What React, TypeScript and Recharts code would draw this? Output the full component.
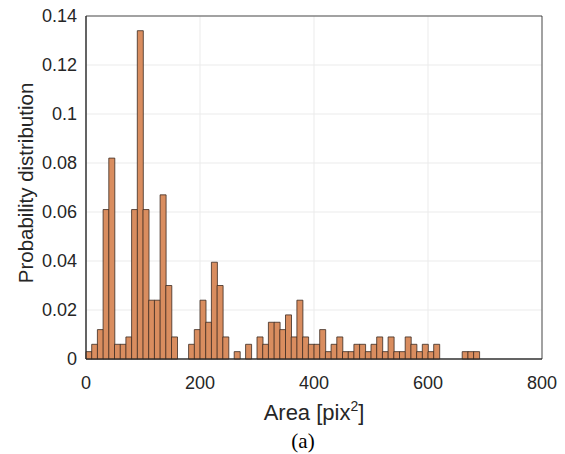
import React from 'react';
import { BarChart, Bar, XAxis, YAxis, CartesianGrid, ReferenceArea, Label } from 'recharts';

// histogram bins, 10 pix^2 wide, starting at 0
const binStart = [
  0, 10, 20, 30, 40, 50, 60, 70, 80, 90,
  100, 110, 120, 130, 140, 150, 160, 170, 180, 190,
  200, 210, 220, 230, 240, 250, 260, 270, 280, 290,
  300, 310, 320, 330, 340, 350, 360, 370, 380, 390,
  400, 410, 420, 430, 440, 450, 460, 470, 480, 490,
  500, 510, 520, 530, 540, 550, 560, 570, 580, 590,
  600, 610, 620, 630, 640, 650, 660, 670, 680,
];
const probability = [
  0.003, 0.006, 0.012, 0.061, 0.082, 0.006, 0.006, 0.009, 0.061, 0.134,
  0.061, 0.024, 0.024, 0.067, 0.030, 0.009, 0, 0, 0.006, 0.012,
  0.024, 0.015, 0.0395, 0.030, 0.009, 0, 0.003, 0, 0.006, 0,
  0.009, 0.006, 0.015, 0.015, 0.012, 0.018, 0.009, 0.024, 0.009, 0.006,
  0.006, 0.012, 0.003, 0.006, 0.009, 0.003, 0.003, 0.006, 0.006, 0.003,
  0.006, 0.009, 0.003, 0.009, 0.003, 0.003, 0.009, 0.006, 0.003, 0.006,
  0.003, 0.006, 0, 0, 0, 0, 0.003, 0.003, 0.003,
];
const binWidth = 10;
const xTicks = [0, 200, 400, 600, 800];
const yTicks = [0, 0.02, 0.04, 0.06, 0.08, 0.1, 0.12, 0.14];

const data = binStart.map((s, i) => ({ center: s + binWidth / 2, p: probability[i] }));

const font = '"Liberation Sans", Arial, Helvetica, sans-serif';
const axisColor = '#262626';

export default function App() {
  return (
    <div style={{ position: 'absolute', left: 0, top: 0, width: 565, height: 454, background: '#fff' }}>
      <BarChart
        width={565}
        height={454}
        data={data}
        margin={{ top: 16, right: 23, left: 0, bottom: 65 }}
        barCategoryGap={0}
        barGap={0}
      >
        <CartesianGrid stroke="#ebebeb" strokeWidth={1} />
        <XAxis
          dataKey="center"
          type="number"
          domain={[0, 800]}
          ticks={xTicks}
          height={30}
          tickLine={false}
          axisLine={{ stroke: axisColor }}
          tick={{ fill: axisColor, fontSize: 18, fontFamily: font }}
          tickMargin={11}
        >
          <Label
            content={({ viewBox }: any) => (
              <text
                x={viewBox.x + viewBox.width / 2}
                y={viewBox.y + 61}
                textAnchor="middle"
                fill={axisColor}
                fontSize={22}
                fontFamily={font}
              >
                Area [pix<tspan fontSize={14} dy={-9}>2</tspan><tspan dy={9}>]</tspan>
              </text>
            )}
          />
        </XAxis>
        <YAxis
          type="number"
          domain={[0, 0.14]}
          ticks={yTicks}
          width={86}
          tickLine={false}
          axisLine={{ stroke: axisColor }}
          tick={{ fill: axisColor, fontSize: 18, fontFamily: font }}
          tickMargin={3}
          tickFormatter={(v: number) => String(v)}
        >
          <Label
            content={() => (
              <text
                x={33}
                y={183}
                textAnchor="middle"
                fill={axisColor}
                fontSize={20.5}
                fontFamily={font}
                transform="rotate(-90, 33, 183)"
              >
                Probability distribution
              </text>
            )}
          />
        </YAxis>
        <Bar dataKey="p" fill="#d98d5f" stroke="#3b2b22" strokeWidth={0.8} isAnimationActive={false} />
        <ReferenceArea x1={0} x2={800} y1={0} y2={0.14} fill="none" stroke={axisColor} strokeOpacity={0.8} ifOverflow="visible" />
      </BarChart>
      <div
        style={{
          position: 'absolute',
          left: 0,
          width: 606,
          top: 429,
          textAlign: 'center',
          fontFamily: '"Liberation Serif", "Times New Roman", serif',
          fontSize: 21,
          color: '#000',
        }}
      >
        (a)
      </div>
    </div>
  );
}
